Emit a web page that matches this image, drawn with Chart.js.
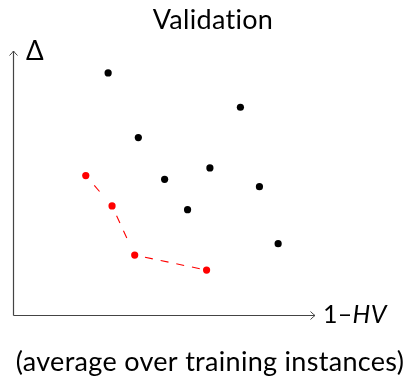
<!DOCTYPE html>
<html>
<head>
<meta charset="utf-8">
<script src="https://cdn.jsdelivr.net/npm/chart.js@4"></script>
<style>
html,body{margin:0;padding:0;background:#fff;}
#wrap{width:411px;height:378px;}
</style>
</head>
<body>
<div id="wrap"><canvas id="chart"></canvas></div>
<script>

// candidate configurations (1-HV, Delta)
let otherX=[3.15,7.53,4.15,5.02,6.52,8.16,5.78,8.78];
let otherY=[9.17,7.87,6.72,5.14,5.57,4.86,3.99,2.70];

// non-dominated front
let frontX=[2.41,3.28,4.03,6.41];
let frontY=[5.28,4.13,2.27,1.70];

let titleText="Validation";
let yLabel="\u0394";
let xLabel1="1\u2013";
let xLabel2="HV";
let caption="(average over training instances)";

let font="Lato, 'DejaVu Sans', sans-serif";


function pts(xs,ys){
return xs.map((x,i)=>({x:x,y:ys[i]}));
}

// dash pattern of each piece of the front line
let segDash=[[8,32],[8,8.4,8,40],[8,8]];
let segOffset=[27,53.6,5.5];


// axes with arrow heads + all text
let decor={

id:"decor",

beforeDatasetsDraw(chart){

let c=chart.ctx;
let a=chart.chartArea;
let x0=Math.round(a.left)+0.5;
let y0=Math.round(a.bottom)+0.5;

c.save();
c.strokeStyle="#444";
c.lineWidth=1.2;

c.beginPath();
c.moveTo(x0,y0);
c.lineTo(x0,a.top);
c.moveTo(x0,y0);
c.lineTo(a.right,y0);
c.stroke();

// arrow heads
c.lineWidth=1;
c.beginPath();
c.moveTo(x0-4,a.top+4.5);
c.quadraticCurveTo(x0-1,a.top+1.5,x0,a.top);
c.quadraticCurveTo(x0+1,a.top+1.5,x0+4,a.top+4.5);
c.moveTo(a.right-4.5,y0-4);
c.quadraticCurveTo(a.right-1.5,y0-1,a.right,y0);
c.quadraticCurveTo(a.right-1.5,y0+1,a.right-4.5,y0+4);
c.stroke();
c.restore();

},

afterDraw(chart){

let c=chart.ctx;
let a=chart.chartArea;

c.save();
c.fillStyle="#000";
c.textBaseline="alphabetic";
// a little spacing also keeps the "ti" ligature apart
c.letterSpacing="0.3px";

c.font="27px "+font;
c.textAlign="center";
c.fillText(titleText,213,29);

c.font="27px "+font;
c.fillText(caption,210,371);

c.textAlign="left";
c.font="26px "+font;
c.fillText(yLabel,a.left+13,a.top+9);

c.font="25px "+font;
let w=c.measureText(xLabel1).width;
c.fillText(xLabel1,a.right+8,a.bottom+8);
c.font="italic 25px "+font;
c.fillText(xLabel2,a.right+8+w,a.bottom+8);

c.restore();

}

};


new Chart(

document.getElementById("chart"),

{

type:"scatter",

data:{

datasets:[

{
label:"others",
data:pts(otherX,otherY),
backgroundColor:"#000",
borderWidth:0,
pointRadius:3.6,
pointHoverRadius:3.6
},

{
label:"front",
data:pts(frontX,frontY),
showLine:true,
borderColor:"#ff0000",
borderWidth:1.1,
backgroundColor:"#ff0000",
pointBackgroundColor:"#ff0000",
pointBorderWidth:0,
pointRadius:3.6,
pointHoverRadius:3.6,
segment:{
borderDash:ctx=>segDash[ctx.p0DataIndex],
borderDashOffset:ctx=>segOffset[ctx.p0DataIndex]
}
}

]

},

options:{

responsive:true,
maintainAspectRatio:false,
animation:false,
events:[],

layout:{
padding:{left:13,right:96,top:51,bottom:63}
},

scales:{
x:{type:"linear",min:0,max:10,display:false},
y:{type:"linear",min:0,max:10,display:false}
},

plugins:{
legend:{display:false},
title:{display:false},
tooltip:{enabled:false}
}

},

plugins:[decor]

}

);

</script>
</body>
</html>
